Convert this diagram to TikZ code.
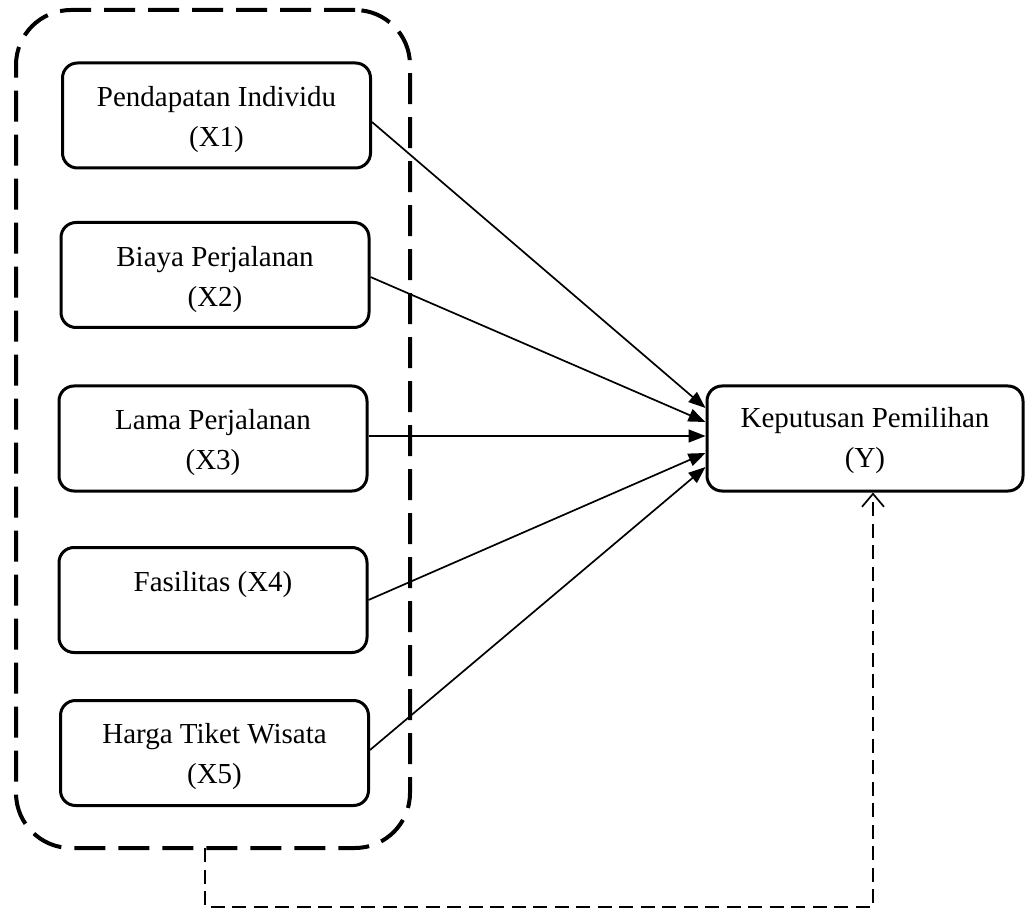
\documentclass[tikz,border=0pt]{standalone}
\usepackage{fontspec}
\setmainfont{Liberation Serif}
\usetikzlibrary{arrows.meta}
\begin{document}
\begin{tikzpicture}[x=1pt,y=-1pt,
 box/.style={draw,line width=3pt,rounded corners=15pt,minimum width=308pt,minimum height=105pt,inner sep=0pt},
 grp/.style={draw,line width=4pt,dash pattern=on 31pt off 13pt,rounded corners=55pt,minimum width=394pt,minimum height=838pt,inner sep=0pt,outer sep=0pt},
 txt/.style={font=\fontsize{29}{40}\selectfont,align=center,inner sep=0pt},
 arr/.style={line width=1.7pt,-{Triangle[length=17pt,width=13pt]}},
 fb/.style={line width=1.7pt,dash pattern=on 14pt off 7.5pt,-{Straight Barb[length=13pt,width=22pt,line width=1.7pt]}}
]
\useasboundingbox (0,0) rectangle (1026,909);
\node[grp] (grp) at (213,429) {};
\node[box] (x1) at (216.5,115.5) {};
\node[txt] (t1) at (216.5,120) {Pendapatan Individu\\(X1)};
\node[box] (x2) at (215,275) {};
\node[txt] (t2) at (215,280) {Biaya Perjalanan\\(X2)};
\node[box] (x3) at (213,438.5) {};
\node[txt] (t3) at (213,442.5) {Lama Perjalanan\\(X3)};
\node[box] (x4) at (213,600) {};
\node[txt] (t4) at (213,584.7) {Fasilitas (X4)};
\node[box] (x5) at (214.5,753) {};
\node[txt] (t5) at (214.5,757) {Harga Tiket Wisata\\(X5)};
\node[box,minimum width=316pt] (kp) at (865,438.5) {};
\node[txt] (tkp) at (865,441) {Keputusan Pemilihan\\(Y)};
\draw[arr] ([yshift=-6.5pt]x1.east) -- ([yshift=30.5pt]kp.west);
\draw[arr] ([yshift=-2pt]x2.east) -- ([yshift=16.5pt]kp.west);
\draw[arr] ([yshift=2.5pt]x3.east) -- ([yshift=2.5pt]kp.west);
\draw[arr] (x4.east) -- ([yshift=-14.5pt]kp.west);
\draw[arr] ([yshift=3pt]x5.east) -- ([yshift=-28.5pt]kp.west);
\coordinate (c2) at (873,907);
\draw[fb] ([xshift=-8pt]grp.south) |- (c2) -- (c2 |- kp.south);
\end{tikzpicture}
\end{document}
